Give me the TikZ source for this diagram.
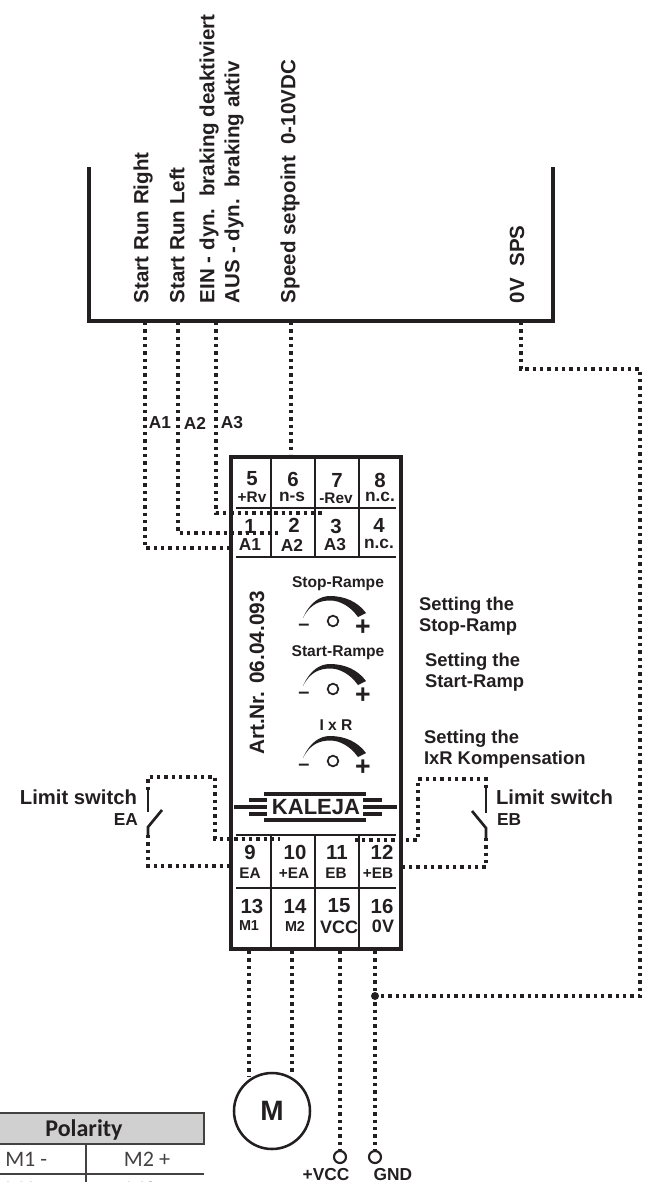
\documentclass[tikz,border=0pt]{standalone}
\usepackage{fontspec}
\setmainfont{Liberation Sans}
\newfontfamily\tablefont{Carlito}
\definecolor{ink}{HTML}{231F20}
\definecolor{grayhead}{HTML}{D0D0D0}
\newcommand{\szf}[1]{\fontsize{#1}{#1}\selectfont}
\tikzset{
  txt/.style={inner sep=0pt,outer sep=0pt,text=ink,font=\bfseries\szf{#1}},
  top/.style={txt=15.4pt,rotate=90,anchor=west},
  numb/.style={txt=15.3pt},
  subl/.style={txt=11.5pt},
  subw/.style={txt=13pt},
  sett/.style={txt=13.8pt,anchor=west},
  dots/.style={draw=ink,line width=2.4pt,dash pattern=on 2.6pt off 2.9pt},
  solid line/.style={draw=ink,line width=2.4pt},
  thin rule/.style={draw=ink,line width=1pt},
  logo/.style={draw=ink,line width=2.3pt},
}
\newcommand{\knob}[1]{%
  \begin{scope}[shift={(0,#1)}]
    \fill[ink] (303,618) .. controls (310,602) and (320,596) .. (330,596)
      .. controls (345,596) and (358,602) .. (366,613) -- (358,617)
      .. controls (350,606) and (340,600.5) .. (330,600.5)
      .. controls (320,600.5) and (310,604) .. (303,618) -- cycle;
    \node[draw=ink,line width=1.3pt,circle,minimum size=8pt,inner sep=0pt] (axis#1) at (333,621) {};
    \node[txt=15pt] (minus#1) at (304,627) {–};
    \node[txt=20pt] (plus#1) at (363,628) {+};
  \end{scope}}
\begin{document}
\begin{tikzpicture}[x=0.75pt,y=-0.75pt]
\useasboundingbox (0,0) rectangle (650,1182);

% PLC bracket
\draw[solid line,line width=2.6pt] (89,167) -- (89,321) -- (553,321) -- (553,167);
\node[top] (tr) at (143,303) {Start Run Right};
\node[top] (tl) at (177,303) {Start Run Left};
\node[top] (tein) at (209,303) {EIN - dyn.\ \ braking deaktiviert};
\node[top] (taus) at (234,303) {AUS - dyn.\ \ braking aktiv};
\node[top] (tsp) at (290,303) {Speed setpoint\ \ 0-10VDC};
\node[top] (tsps) at (517,303) {0V\ \ SPS};

% named connector points
\coordinate (o1) at (145,322); \coordinate (o2) at (178,322);
\coordinate (o3) at (216,322); \coordinate (o4) at (291,322);
\coordinate (o5) at (521,322);
\coordinate (k1) at (145,548); \coordinate (e1) at (230,548);
\coordinate (k2) at (178,533); \coordinate (e2) at (280,533);
\coordinate (k3) at (216,513); \coordinate (e3) at (322,513);
\coordinate (e4) at (291,454);
\coordinate (k5) at (521,369); \coordinate (k6) at (640,369); \coordinate (k7) at (640,996);
\coordinate (jn) at (375,996);

\draw[dots] (o1) -- (k1) -- (e1);
\draw[dots] (o2) -- (k2) -- (e2);
\draw[dots] (o3) -- (k3) -- (e3);
\draw[dots] (o4) -- (e4);
\draw[dots] (o5) -- (k5) -- (k6) -- (k7) -- (jn);

\node[subw] (la1) at (160,423) {A1};
\node[subw] (la2) at (195,423) {A2};
\node[subw] (la3) at (232,423) {A3};

% module body
\draw[solid line] (231,457) rectangle (401,949);
\foreach \x in {271,315,359} {
  \draw[thin rule] (\x,459) -- (\x,557);
  \draw[thin rule] (\x,835) -- (\x,947);
}
\foreach \y in {508,557,835,888} \draw[thin rule] (236,\y) -- (396,\y);

% terminals top
\node[numb] (n5) at (252,479) {5};
\node[numb] (n6) at (293,479) {6};
\node[numb] (n7) at (337,480) {7};
\node[numb] (n8) at (380,480) {8};
\node[subl] (s5) at (252,497) {+Rv};
\node[subw] (s6) at (292,497) {n-s};
\node[subl] (s7) at (336,498) {-Rev};
\node[subw] (s8) at (380,497) {n.c.};
\node[numb] (n1) at (250,526) {1};
\node[numb] (n2) at (294,525) {2};
\node[numb] (n3) at (336,526) {3};
\node[numb] (n4) at (379,525) {4};
\node[subw] (s1) at (250,545) {A1};
\node[subw] (s2) at (292,545) {A2};
\node[subw] (s3) at (335,545) {A3};
\node[subw] (s4) at (379,544) {n.c.};

% dials
\node[txt=11.7pt] (stoprampe) at (338,584) {Stop-Rampe};
\knob{0}
\node[txt=11.7pt] (startrampe) at (338,653) {Start-Rampe};
\knob{68}
\node[txt=11.7pt] (ixr) at (336,725) {I x R};
\knob{140}
\node[txt=15.6pt,rotate=90] (art) at (257,673) {Art.Nr. 06.04.093};

% logo
\node[txt=16.5pt] (kaleja) at (316,807) {KALEJA};
\draw[logo] (264,794) -- (366,794);
\draw[logo] (264,820) -- (366,820);
\draw[logo] (234,807) -- (267,807);
\draw[logo] (249,800) -- (267,800);
\draw[logo] (249,814) -- (267,814);
\draw[logo] (363,807) -- (397,807);
\draw[logo] (363,800) -- (382,800);
\draw[logo] (363,814) -- (382,814);

% terminals bottom
\node[numb] (n9) at (250,852) {9};
\node[numb] (n10) at (295,852) {10};
\node[numb] (n11) at (337,852) {11};
\node[numb] (n12) at (382,852) {12};
\node[subl] (s9) at (250,873) {EA};
\node[subl] (s10) at (294,873) {+EA};
\node[subl] (s11) at (336,873) {EB};
\node[subl] (s12) at (378,873) {+EB};
\node[numb] (n13) at (252,906) {13};
\node[numb] (n14) at (295,906) {14};
\node[numb] (n15) at (339,906) {15};
\node[numb] (n16) at (382,906) {16};
\node[txt=10.8pt] (s13) at (249,926) {M1};
\node[txt=10.8pt] (s14) at (295,926) {M2};
\node[txt=13.5pt] (s15) at (339,927) {VCC};
\node[txt=13.5pt] (s16) at (383,926) {0V};

% setting labels
\node[sett] (set1a) at (419,606) {Setting the};
\node[sett] (set1b) at (419,627) {Stop-Ramp};
\node[sett] (set2a) at (425,662) {Setting the};
\node[sett] (set2b) at (425,683) {Start-Ramp};
\node[sett] (set3a) at (424,739) {Setting the};
\node[sett] (set3b) at (424,760) {IxR Kompensation};

% left limit switch
\coordinate (la) at (148,790); \coordinate (lb) at (148,777); \coordinate (lc) at (215,777);
\coordinate (ld) at (215,839); \coordinate (le) at (280,839);
\coordinate (lf) at (148,835); \coordinate (lg) at (148,866); \coordinate (lh) at (231,866);
\draw[dots] (la) -- (lb) -- (lc) -- (ld) -- (le);
\draw[dots] (lf) -- (lg) -- (lh);
\draw[solid line,line width=2pt] (148,790) -- (148,812);
\draw[solid line,line width=2pt] (162,810) -- (148,827) -- (148,836);
\node[txt=15.2pt,anchor=east] (lsw) at (137,797) {Limit switch};
\node[txt=13pt,anchor=east] (lea) at (138,820) {EA};

% right limit switch
\coordinate (ra) at (486,788); \coordinate (rb) at (486,779); \coordinate (rc) at (418,779);
\coordinate (rd) at (418,840); \coordinate (re) at (353,840);
\coordinate (rf) at (486,838); \coordinate (rg) at (486,867); \coordinate (rh) at (403,867);
\draw[dots] (ra) -- (rb) -- (rc) -- (rd) -- (re);
\draw[dots] (rf) -- (rg) -- (rh);
\draw[solid line,line width=2pt] (486,788) -- (486,813);
\draw[solid line,line width=2pt] (472,811) -- (486,828) -- (486,839);
\node[txt=15.2pt,anchor=west] (rsw) at (496,797) {Limit switch};
\node[txt=13pt,anchor=west] (reb) at (497,820) {EB};

% motor and supply
\node[draw=ink,line width=1.9pt,circle,minimum size=57pt,inner sep=0pt,text=ink,font=\bfseries\szf{21pt}] (motor) at (272,1111) {M};
\coordinate (b1) at (249,951); \coordinate (b2) at (292,951);
\coordinate (b3) at (340,951); \coordinate (b4) at (375,951);
\coordinate (m1) at (249,1077); \coordinate (m2) at (292,1075);
\node[draw=ink,line width=1.6pt,circle,minimum size=9pt,inner sep=0pt] (vcc) at (340,1157) {};
\node[draw=ink,line width=1.6pt,circle,minimum size=9pt,inner sep=0pt] (gnd) at (375,1157) {};
\draw[dots] (b1) -- (m1);
\draw[dots] (b2) -- (m2);
\draw[dots] (b3) -- (vcc.north);
\draw[dots] (b4) -- (gnd.north);
\fill[ink] (jn) circle[radius=4];
\node[txt=13pt] (lvcc) at (326,1174.5) {+VCC};
\node[txt=13pt] (lgnd) at (393,1174.5) {GND};

% polarity table, cut by the page edge
\begin{scope}
  \clip (0,1100) rectangle (650,1182);
  \draw[draw=ink!85,line width=1.2pt,fill=grayhead] (-5,1113) rectangle (204,1144);
  \draw[ink!85,line width=1pt] (86,1144) -- (86,1190);
  \draw[ink!85,line width=1pt] (-5,1174) -- (204,1174);
  \node[inner sep=0pt,text=ink,font=\tablefont\bfseries\szf{18pt}] (pol) at (84,1130) {Polarity};
  \node[inner sep=0pt,text=ink!85,font=\tablefont\szf{16.6pt},anchor=west] (r1a) at (5,1159) {M1 -};
  \node[inner sep=0pt,text=ink!85,font=\tablefont\szf{16.6pt}] (r1b) at (147,1159) {M2 +};
  \node[inner sep=0pt,text=ink!85,font=\tablefont\szf{16.6pt},anchor=west] (r2a) at (5,1189) {M1 +};
  \node[inner sep=0pt,text=ink!85,font=\tablefont\szf{16.6pt}] (r2b) at (147,1189) {M2 -};
\end{scope}
\end{tikzpicture}
\end{document}
